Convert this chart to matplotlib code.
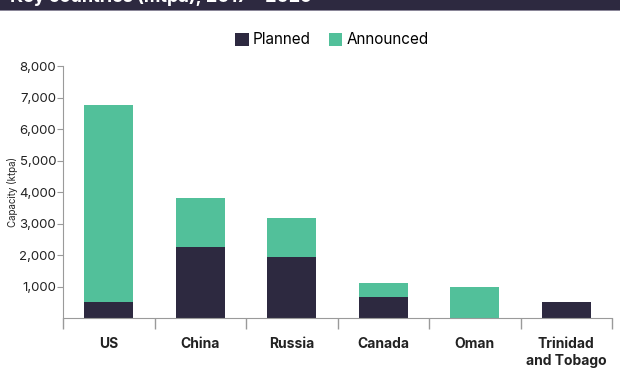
import matplotlib
matplotlib.use("Agg")
import matplotlib.pyplot as plt
from matplotlib.patches import Rectangle
from matplotlib.ticker import FuncFormatter, FixedLocator
import numpy as np

plt.rcParams['font.family'] = ['Inter', 'DejaVu Sans']

countries = ["US", "China", "Russia", "Canada", "Oman", "Trinidad\nand Tobago"]
planned = [520, 2250, 1930, 675, 0, 500]
announced = [6230, 1570, 1240, 425, 985, 0]

dark = "#2d2940"
green = "#52c09a"
axis_col = "#9a9a9a"

fig = plt.figure(figsize=(6.2, 3.8), dpi=100)

# header band (title cut off at the top)
fig.patches.append(Rectangle((0, 1 - 10 / 380), 1, 10 / 380, transform=fig.transFigure,
                             facecolor=dark, edgecolor="none", zorder=0))
fig.patches.append(Rectangle((0, 1 - 11 / 380), 1, 1 / 380, transform=fig.transFigure,
                             facecolor="#8a8698", edgecolor="none", zorder=0))
fig.text(10 / 620, 1 - 2 / 380, "Key countries (mtpa), 2017 – 2025", color="white",
         fontsize=13, fontweight="bold", va="baseline", ha="left")

ax = fig.add_axes([63 / 620, 62 / 380, 549 / 620, 252 / 380])
x = np.arange(len(countries))
w = 0.54
b1 = ax.bar(x, planned, w, color=dark, label="Planned")
b2 = ax.bar(x, announced, w, bottom=planned, color=green, label="Announced")

ax.set_xlim(-0.5, len(countries) - 0.5)
ax.set_ylim(0, 8000)
ax.set_yticks([1000, 2000, 3000, 4000, 5000, 6000, 7000, 8000])
ax.yaxis.set_major_formatter(FuncFormatter(lambda v, p: f"{int(v):,}"))
ax.xaxis.set_major_locator(FixedLocator(np.arange(-0.5, len(countries), 1.0)))
ax.set_xticklabels([])
ax.set_xticks(x, minor=True)
ax.set_xticklabels(countries, minor=True, fontweight="bold", fontsize=10, color="#222222")
ax.tick_params(axis="x", which="minor", length=0, pad=14)
ax.tick_params(axis="x", which="major", length=8, color=axis_col, width=1)
ax.tick_params(axis="y", length=4, color=axis_col, labelsize=9.5, labelcolor="#222222", pad=1)

for s in ["top", "right"]:
    ax.spines[s].set_visible(False)
for s in ["left", "bottom"]:
    ax.spines[s].set_color(axis_col)

ax.set_ylabel("Capacity (ktpa)", fontsize=7, color="#222222", va="center")
ax.yaxis.set_label_coords(-51 / 549, 0.5)

fig.legend(handles=[b1, b2], loc="center", bbox_to_anchor=(0.535, 1 - 40 / 380), ncol=2,
           frameon=False, fontsize=11, handlelength=0.9, handleheight=0.9,
           handletextpad=0.25, columnspacing=1.2)

fig.savefig("out.png", dpi=100)
